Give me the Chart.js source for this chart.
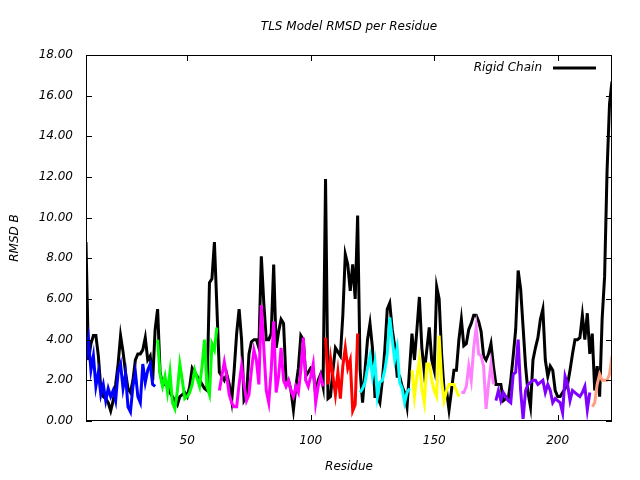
<!DOCTYPE html>
<html>
<head>
<meta charset="utf-8">
<script src="https://cdn.jsdelivr.net/npm/chart.js@4.4.1/dist/chart.umd.min.js"></script>
<style>
  html, body { margin: 0; padding: 0; background: #ffffff; }
  #wrap { width: 640px; height: 480px; }
</style>
</head>
<body>
<div id="wrap"><canvas id="rmsdChart" width="640" height="480"></canvas></div>
<script>
// residue range and tick labels
const firstResidue = 9;
const lastResidue = 222;
const xTicks = [50, 100, 150, 200];
const yTicks = [0, 2, 4, 6, 8, 10, 12, 14, 16, 18];

// Rigid Chain RMSD, residues 9..222
const rigidChain = [
    8.8, 3.0, 3.8, 4.2, 4.2, 3.2, 1.6, 1.2, 1.1, 0.9,
    0.5, 1.0, 1.8, 2.8, 4.2, 3.4, 2.4, 1.6, 1.4, 2.0,
    3.0, 3.3, 3.3, 3.5, 4.1, 3.0, 3.2, 2.0, 4.5, 5.5,
    2.4, 1.8, 1.8, 1.7, 1.4, 1.2, 1.0, 0.8, 1.2, 1.3,
    1.4, 1.2, 1.7, 2.6, 2.4, 2.2, 2.0, 1.8, 1.6, 1.5,
    6.8, 7.0, 8.8, 5.6, 2.4, 2.2, 2.0, 2.3, 1.8, 1.0,
    2.5, 4.3, 5.5, 4.0, 1.0, 1.2, 3.3, 3.9, 4.0, 4.0,
    3.6, 8.1, 5.8, 4.0, 4.0, 4.3, 7.7, 3.6, 4.4, 5.0,
    4.8, 2.0, 2.0, 1.5, 0.55, 1.7, 2.6, 4.2, 4.0, 2.2,
    2.4, 2.6, 2.5, 1.3, 2.0, 2.3, 1.7, 11.9, 1.1, 1.2,
    2.5, 3.6, 3.4, 3.2, 5.2, 8.2, 7.7, 6.4, 7.7, 6.0,
    10.1, 2.5, 0.9, 2.5, 4.0, 4.8, 3.6, 1.2, 1.2, 0.9,
    2.0, 3.5, 5.5, 5.8, 4.5, 3.7, 2.2, 2.2, 1.7, 1.4,
    0.7, 2.5, 4.3, 3.0, 4.5, 6.1, 3.6, 2.4, 3.5, 4.6,
    3.0, 2.5, 6.6, 6.0, 3.3, 1.5, 1.5, 0.55, 1.5, 2.5,
    2.5, 4.0, 5.0, 3.7, 3.8, 4.5, 4.8, 5.2, 5.2, 4.9,
    4.4, 3.2, 3.0, 3.3, 3.8, 2.7, 1.8, 1.8, 1.8, 1.0,
    1.1, 1.1, 2.0, 3.2, 4.5, 7.4, 6.5, 4.6, 2.7, 1.4,
    0.7, 3.0, 3.6, 4.1, 5.0, 5.5, 3.0, 2.2, 2.7, 2.5,
    1.5, 1.2, 1.2, 1.4, 1.6, 1.8, 2.5, 3.3, 4.0, 4.0,
    4.1, 5.2, 4.0, 5.3, 3.3, 4.3, 1.5, 2.7, 1.2, 5.0,
    7.1, 12.3, 15.6, 16.7
];

// TLS groups: first residue of each group and its values
const group1Start = 9;
const group1 = [3.0, 4.0, 2.5, 3.2, 1.7, 2.4, 1.3, 1.8, 1.0, 1.6, 1.2, 1.5, 1.0, 2.4, 2.8,
    1.6, 2.3, 0.7, 0.45, 1.7, 2.4, 1.2, 0.9, 2.8, 1.9, 2.5, 2.8, 1.8, 1.7];
const group2Start = 38;
const group2 = [4.0, 2.3, 1.7, 2.2, 1.4, 2.4, 0.9, 0.6, 1.5, 2.8, 2.0, 1.1, 1.2, 1.4, 1.8,
    2.5, 2.1, 1.7, 2.7, 4.0, 1.7, 1.3, 3.8, 3.5, 4.6];
const group3Start = 63;
const group3 = [1.5, 2.2, 2.9, 2.2, 1.3, 0.9, 0.7, 0.7, 1.8, 2.7, 1.8, 1.0, 1.3, 2.5, 3.5,
    3.0, 1.8, 5.7, 3.6, 1.5, 0.9, 2.5, 4.9, 1.4, 2.2, 3.6, 2.0, 1.7, 2.0, 1.5,
    1.2, 1.7, 1.4, 2.5, 4.1, 2.0, 1.7, 2.2, 2.8, 0.9, 1.7, 2.2, 1.7];
const group4Start = 106;
const group4 = [4.1, 1.8, 3.1, 2.2, 1.3, 2.4, 1.1, 2.7, 3.6, 2.6, 3.0, 0.5, 0.8, 4.3];
const group5Start = 120;
const group5 = [1.4, 1.6, 1.9, 2.6, 3.2, 2.2, 2.9, 1.2, 1.9, 2.0, 2.5, 3.3, 5.1, 4.0, 3.0,
    3.6, 1.9, 1.6, 0.9, 1.4, 1.6];
const group6Start = 141;
const group6 = [2.5, 1.2, 2.2, 3.0, 1.6, 0.9, 2.8, 2.8, 2.0, 1.5, 1.2, 4.2, 2.0, 1.0, 1.5,
    1.8, 1.8, 1.8, 1.5, 1.2];
const group7Start = 161;
const group7 = [1.4, 1.4, 1.7, 2.7, 2.0, 3.6, 4.6, 3.3, 3.2, 2.7, 0.6, 1.8, 2.8, 1.8];
const group8Start = 175;
const group8 = [1.0, 1.5, 1.0, 1.4, 1.2, 1.0, 0.9, 2.3, 2.4, 4.0, 1.5, 0.1, 1.5, 1.8, 1.9,
    2.0, 2.0, 1.8, 1.9, 2.0, 1.4, 1.8, 1.5, 0.9, 1.1, 1.0, 0.9, 0.4, 2.2, 1.8,
    1.0, 1.5, 1.4, 1.3, 1.2, 1.4, 1.7, 0.55, 1.4];
const group9Start = 214;
const group9 = [0.7, 0.9, 1.8, 2.3, 2.0, 2.0, 2.0, 2.3, 3.2];

const groupColors = ['#0000ff', '#00ff00', '#ff00ff', '#ff0000', '#00ffff',
    '#ffff00', '#ff80ff', '#8000ff', '#ff9f7f'];

function toPoints(start, values) {
    return values.map((v, i) => ({ x: start + i, y: v }));
}

const groups = [
    [group1Start, group1], [group2Start, group2], [group3Start, group3],
    [group4Start, group4], [group5Start, group5], [group6Start, group6],
    [group7Start, group7], [group8Start, group8], [group9Start, group9]
];

const FONT = 'DejaVu Sans';

const datasets = [{
    label: 'Rigid Chain',
    data: toPoints(firstResidue, rigidChain),
    borderColor: '#000000',
    borderWidth: 3,
    pointRadius: 0,
    tension: 0,
    order: 10
}];
groups.forEach((g, i) => {
    datasets.push({
        label: 'group ' + (i + 1),
        data: toPoints(g[0], g[1]),
        borderColor: groupColors[i],
        borderWidth: 3,
        pointRadius: 0,
        tension: 0,
        order: 1
    });
});

// frame, inward ticks, titles and key, drawn the gnuplot way
const gnuplotDecor = {
    id: 'gnuplotDecor',
    afterDraw(chart) {
        const { ctx, chartArea: a, scales } = chart;
        const x = scales.x, y = scales.y;
        ctx.save();
        ctx.strokeStyle = '#000000';
        ctx.lineWidth = 1;
        ctx.strokeRect(a.left + 0.5, a.top + 0.5, a.right - a.left - 1, a.bottom - a.top - 1);
        ctx.beginPath();
        y.ticks.forEach(t => {
            const py = Math.round(y.getPixelForValue(t.value)) + 0.5;
            ctx.moveTo(a.left, py); ctx.lineTo(a.left + 6, py);
            ctx.moveTo(a.right, py); ctx.lineTo(a.right - 6, py);
        });
        x.ticks.forEach(t => {
            const px = Math.round(x.getPixelForValue(t.value)) + 0.5;
            ctx.moveTo(px, a.bottom); ctx.lineTo(px, a.bottom - 6);
            ctx.moveTo(px, a.top); ctx.lineTo(px, a.top + 6);
        });
        ctx.stroke();

        ctx.fillStyle = '#000000';
        ctx.font = 'italic 12px "' + FONT + '"';
        ctx.textBaseline = 'middle';
        ctx.textAlign = 'center';
        const cx = (a.left + a.right) / 2;
        ctx.fillText('TLS Model RMSD per Residue', cx, 27);
        ctx.fillText('Residue', cx, 467);
        ctx.save();
        ctx.translate(15, (a.top + a.bottom) / 2);
        ctx.rotate(-Math.PI / 2);
        ctx.fillText('RMSD B', 0, 0);
        ctx.restore();

        // key
        ctx.textAlign = 'right';
        ctx.fillText('Rigid Chain', 542, 68);
        ctx.beginPath();
        ctx.lineWidth = 3;
        ctx.moveTo(553, 68);
        ctx.lineTo(596, 68);
        ctx.stroke();
        ctx.restore();
    }
};

const chartConfig = {
    type: 'line',
    data: { datasets: datasets },
    options: {
        responsive: false,
        maintainAspectRatio: false,
        animation: false,
        layout: { padding: { left: 0, right: 28, top: 55, bottom: 0 } },
        plugins: {
            legend: { display: false },
            tooltip: { enabled: false },
            title: { display: false }
        },
        scales: {
            x: {
                type: 'linear',
                min: firstResidue,
                max: lastResidue,
                grid: { display: false, drawTicks: false },
                border: { display: false },
                afterBuildTicks: scale => { scale.ticks = xTicks.map(v => ({ value: v })); },
                afterFit: scale => { scale.height = 59; },
                ticks: {
                    padding: 13,
                    maxRotation: 0,
                    color: '#000000',
                    font: { family: FONT, size: 12, style: 'italic' }
                }
            },
            y: {
                type: 'linear',
                min: 0,
                max: 18,
                grid: { display: false, drawTicks: false },
                border: { display: false },
                afterBuildTicks: scale => { scale.ticks = yTicks.map(v => ({ value: v })); },
                afterFit: scale => { scale.width = 86; },
                ticks: {
                    padding: 13,
                    color: '#000000',
                    font: { family: FONT, size: 12, style: 'italic' },
                    callback: v => Number(v).toFixed(2)
                }
            }
        }
    },
    plugins: [gnuplotDecor]
};

const ctx = document.getElementById('rmsdChart').getContext('2d');
const rmsdChart = new Chart(ctx, chartConfig);
</script>
</body>
</html>
